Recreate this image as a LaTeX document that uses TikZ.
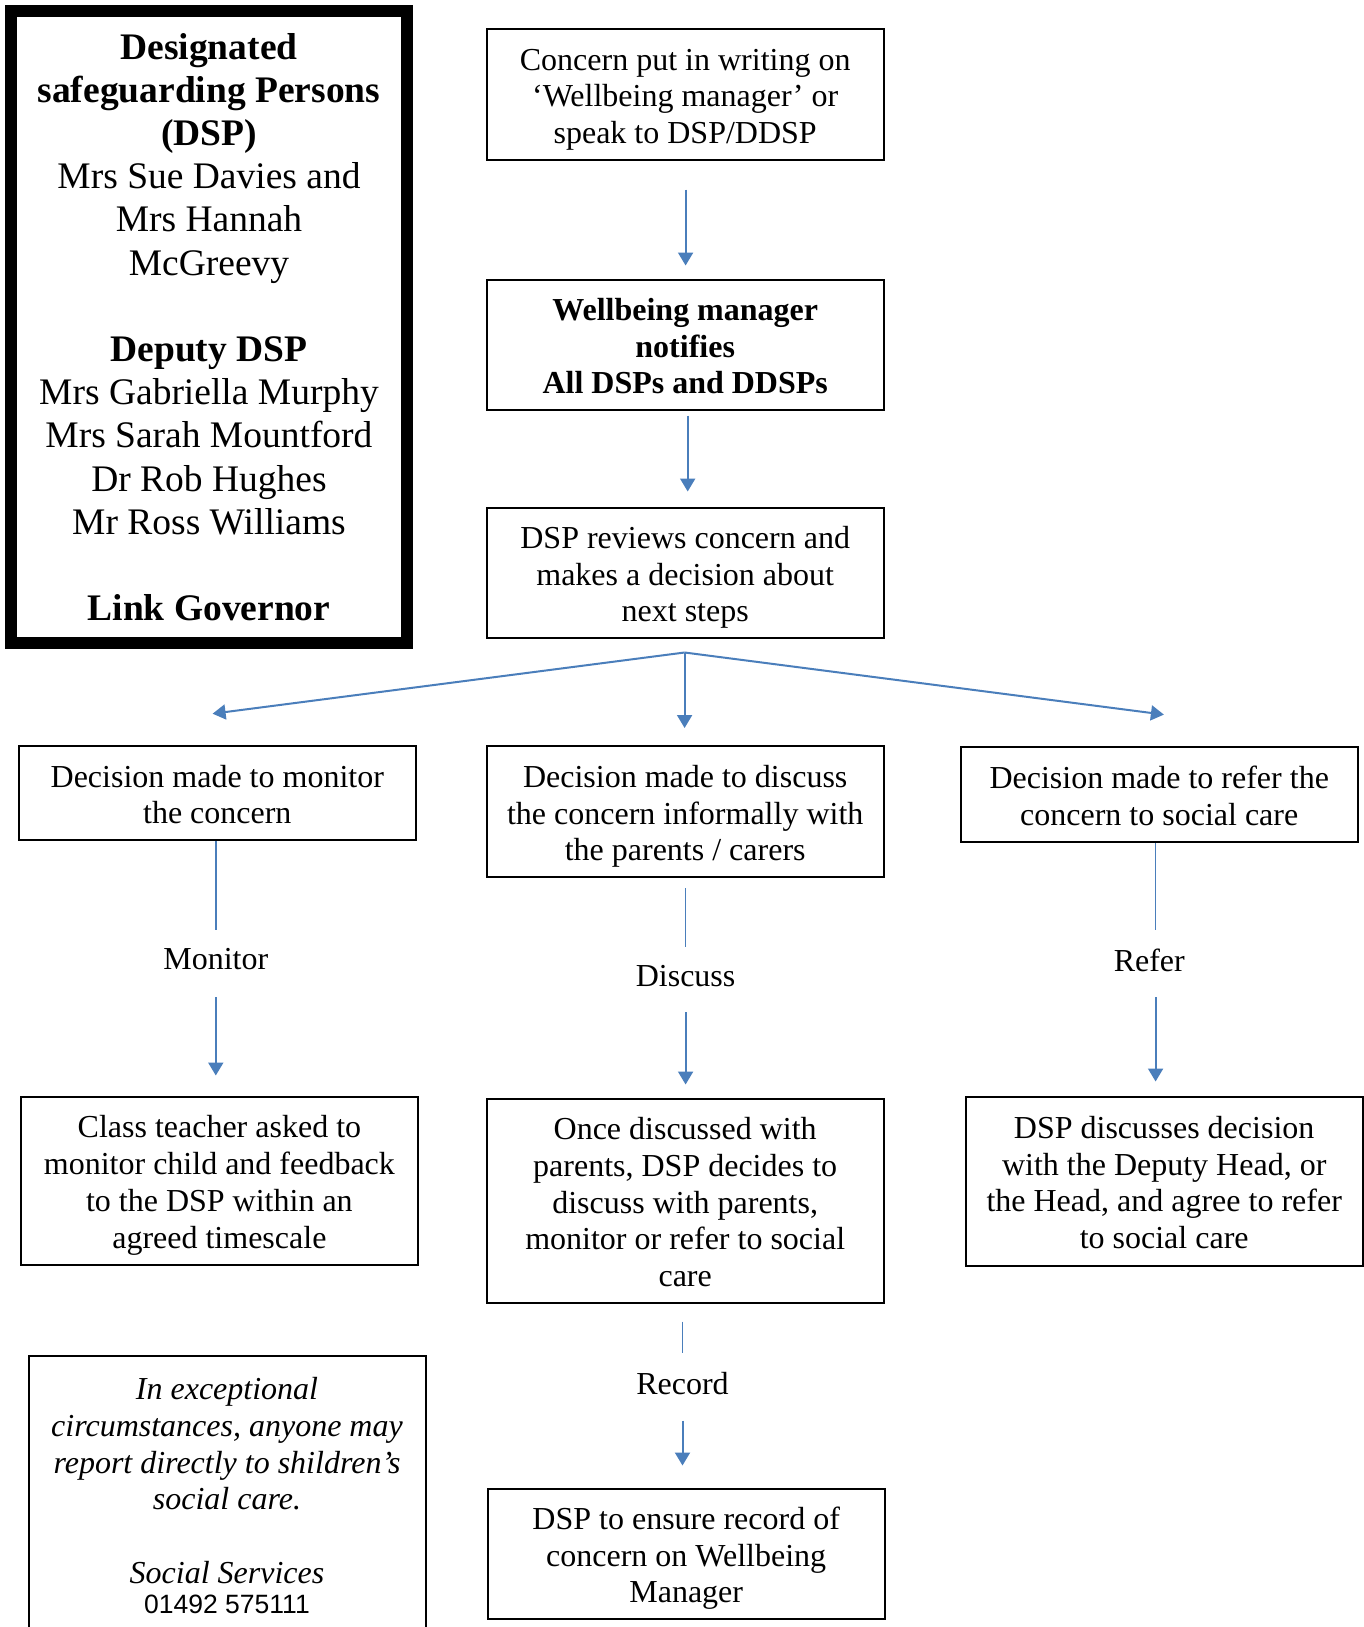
\documentclass[tikz,border=0pt]{standalone}
\usepackage{fontspec}
\setmainfont{Liberation Serif}
\newfontfamily\arialfont{Liberation Sans}
\usetikzlibrary{arrows.meta,calc}
\definecolor{flowblue}{RGB}{74,126,187}
\newcommand{\myTop}{\rule{0pt}{34pt}}
\newcommand{\myBot}{\rule[-9pt]{0pt}{9pt}}
\begin{document}
\begin{tikzpicture}[x=1pt,y=-1pt,
  box/.style={draw=black, line width=2pt, rectangle, align=center, inner sep=0pt,
    minimum width=397pt, font=\fontsize{32}{36.7}\selectfont},
  lbl/.style={inner sep=0pt, font=\fontsize{32}{36.7}\selectfont},
  arr/.style={draw=flowblue, line width=2pt, -{Triangle[length=13pt,width=15pt]}},
  plain/.style={draw=flowblue, line width=1.5pt}]
\useasboundingbox (0,0) rectangle (1364,1627);
\fill[white] (0,0) rectangle (1364,1627);
\clip (0,0) rectangle (1364,1627);

% left list box
\node[draw=black, line width=12pt, minimum width=396pt, minimum height=631pt,
  align=center, inner sep=0pt, font=\fontsize{37.5}{43.2}\selectfont] (dsp) at (209,327)
  {\textbf{Designated}\\\textbf{safeguarding Persons}\\\textbf{(DSP)}\\
   Mrs Sue Davies and\\Mrs Hannah\\McGreevy\\[43.2pt]
   \textbf{Deputy DSP}\\Mrs Gabriella Murphy\\Mrs Sarah Mountford\\Dr Rob Hughes\\
   Mr Ross Williams\\[43.2pt]\textbf{Link Governor}};

% main column
\node[box, minimum height=130pt] (b1) at (685.2,94.5)
  {\myTop Concern put in writing on\\‘Wellbeing manager’ or\\speak to DSP/DDSP\myBot};
\node[box, minimum height=130pt, font=\fontsize{32}{36.7}\selectfont\bfseries] (b2) at (685.2,344.5)
  {\myTop Wellbeing manager\\notifies\\All DSPs and DDSPs\myBot};
\node[box, minimum height=130pt] (b3) at (685.2,572.5)
  {\myTop DSP reviews concern and\\makes a decision about\\next steps\myBot};

% decisions
\node[box, minimum height=94pt] (dL) at (217.3,793)
  {\myTop Decision made to monitor\\the concern\myBot};
\node[box, minimum height=131pt] (dM) at (685.2,811.5)
  {\myTop Decision made to discuss\\the concern informally with\\the parents / carers\myBot};
\node[box, minimum height=95pt] (dR) at (1159.2,794.5)
  {\myTop Decision made to refer the\\concern to social care\myBot};

% labels
\node[lbl] (mon) at (215.8,959) {Monitor};
\node[lbl] (dis) at (685.6,976) {Discuss};
\node[lbl] (ref) at (1149.3,960) {Refer};
\node[lbl] (rec) at (682.5,1383.5) {Record};

% outcomes
\node[box, minimum height=168pt] (cL) at (219.4,1180.5)
  {\myTop Class teacher asked to\\monitor child and feedback\\to the DSP within an\\agreed timescale\myBot};
\node[box, minimum height=204pt] (cM) at (685.2,1200.5)
  {\myTop Once discussed with\\parents, DSP decides to\\discuss with parents,\\monitor or refer to social\\care\myBot};
\node[box, minimum height=169pt] (cR) at (1164.2,1181)
  {\myTop DSP discusses decision\\with the Deputy Head, or\\the Head, and agree to refer\\to social care\myBot};
\node[box, minimum height=130pt] (bot) at (686.2,1553.5)
  {\myTop DSP to ensure record of\\concern on Wellbeing\\Manager\myBot};

% note box
\node[draw=black, line width=2pt, minimum width=397pt, minimum height=300pt,
  anchor=north, inner sep=0pt] (notebox) at (227.5,1354.5) {};
\node[align=center, inner sep=0pt, font=\fontsize{32}{36.7}\selectfont\itshape] (note) at (227,1495.5)
  {In exceptional\\circumstances, anyone may\\report directly to shildren’s\\social care.\\[36.7pt]
   Social Services\\[-6.5pt]{\arialfont\upshape\fontsize{26.5}{30}\selectfont 01492 575111}};

% connectors
\draw[arr] ($(b1.south)+(0.4,29)$) -- ($(b2.north)+(0.4,-13)$);
\draw[arr] ($(b2.south)+(2.5,5)$) -- ($(b3.north)+(2.5,-15)$);
\coordinate (split) at ($(b3.south)+(-0.6,14)$);
\draw[arr] (split) -- ($(dL.north)+(-4.7,-31.3)$);
\draw[arr] (split) -- ($(dM.north)+(-0.6,-17)$);
\draw[arr] (split) -- ($(dR.north)+(4.7,-31.4)$);

\draw[plain] (dL.south -| mon) -- ($(mon.center)+(0,-29)$);
\draw[arr] ($(mon.center)+(0,38)$) -- ($(cL.north -| mon)+(0,-20)$);

\draw[plain] ($(dM.south -| dis)+(0,10)$) -- ($(dis.center)+(0,-29)$);
\draw[arr] ($(dis.center)+(0,36)$) -- ($(cM.north -| dis)+(0,-13)$);

\draw[plain] ($(dR.south -| ref)+(6.3,0)$) -- ($(ref.center)+(6.3,-30)$);
\draw[arr] ($(ref.center)+(6.3,37)$) -- ($(cR.north -| ref)+(6.3,-14)$);

\draw[plain] ($(cM.south -| rec)+(0,18)$) -- ($(rec.center)+(0,-31)$);
\draw[arr] ($(rec.center)+(0,37)$) -- ($(bot.north -| rec)+(0,-22)$);
\end{tikzpicture}
\end{document}
